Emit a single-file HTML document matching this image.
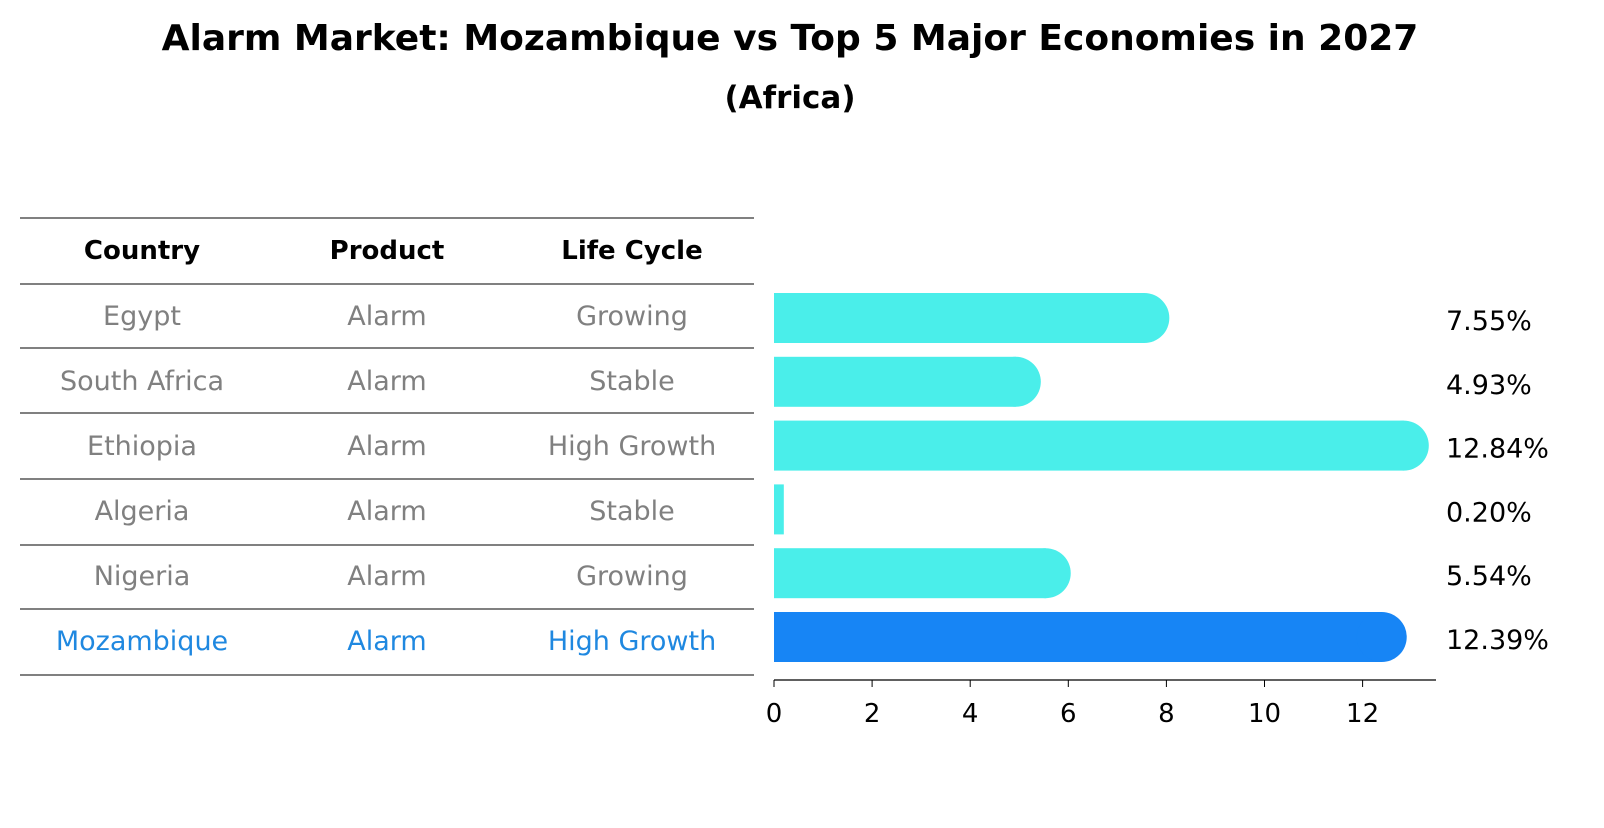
<!DOCTYPE html>
<html><head><meta charset="utf-8"><style>
body{margin:0;background:#fff;}
svg text{font-family:"DejaVu Sans","Liberation Sans",sans-serif;}
</style></head><body>
<svg id="chart" width="1604" height="823" viewBox="0 0 1604 823" xmlns="http://www.w3.org/2000/svg">
<text x="790" y="50" text-anchor="middle" font-size="36" font-weight="bold">Alarm Market: Mozambique vs Top 5 Major Economies in 2027</text>
<text x="790" y="108" text-anchor="middle" font-size="31" font-weight="bold">(Africa)</text>
<g id="table"></g>
<g id="bars"></g>
<g id="axis"></g>
</svg>
<script>
const countries=["Egypt","South Africa","Ethiopia","Algeria","Nigeria","Mozambique"];
const products=["Alarm","Alarm","Alarm","Alarm","Alarm","Alarm"];
const lifeCycles=["Growing","Stable","High Growth","Stable","Growing","High Growth"];
const values=[7.55,4.93,12.84,0.20,5.54,12.39];
const xTicks=[0,2,4,6,8,10,12];

const NS="http://www.w3.org/2000/svg";
function mk(tag,attrs,parent,text){const e=document.createElementNS(NS,tag);for(const k in attrs)e.setAttribute(k,attrs[k]);if(text!==undefined)e.textContent=text;parent.appendChild(e);return e;}
const x0=774,unit=49.05;
const xs=v=>x0+v*unit;
const barY=i=>318+i*63.8;
const textY=i=>315+i*65;
const table=document.getElementById('table'),bars=document.getElementById('bars'),axis=document.getElementById('axis');
const lineYs=[218,284,348,413,479,545,609,675];
lineYs.forEach(y=>{const l=mk('line',{x1:20,x2:754,y1:y,y2:y,stroke:'#000','stroke-width':1},table);

});
const colX=[142,387,632];
["Country","Product","Life Cycle"].forEach((h,j)=>{const t=mk('text',{x:colX[j],y:259,'text-anchor':'middle','font-size':26,'font-weight':'bold'},table,h);

});
countries.forEach((c,i)=>{
  const last=i===countries.length-1;
  const col=last?'#1f88e0':'#808080';
  [c,products[i],lifeCycles[i]].forEach((v,j)=>{
    const t=mk('text',{x:colX[j],y:textY(i)+10,'text-anchor':'middle','font-size':27,fill:col},table,v);
    
    
  });
  const v=values[i],cy=barY(i),h=50,end=xs(v);
  const fill=last?'#1785f5':'#4aeeea';
  const r=mk('rect',{x:x0,y:cy-h/2,width:end-x0,height:h,fill:fill},bars);
  
  
  if(v>=1){const cap=mk('circle',{cx:end,cy:cy,r:h/2,fill:fill},bars);
    
    }
  const lb=mk('text',{x:1446,y:cy+12,'font-size':27},bars,v.toFixed(2)+'%');
  
  
});
const al=mk('line',{x1:x0,x2:1436,y1:680,y2:680,stroke:'#000','stroke-width':1.2},axis);


xTicks.forEach(t=>{
  const tk=mk('line',{x1:xs(t),x2:xs(t),y1:680,y2:687,stroke:'#000'},axis);
  
  
  const tl=mk('text',{x:xs(t),y:722,'text-anchor':'middle','font-size':26},axis,String(t));
  
  
});
</script>
</body></html>
